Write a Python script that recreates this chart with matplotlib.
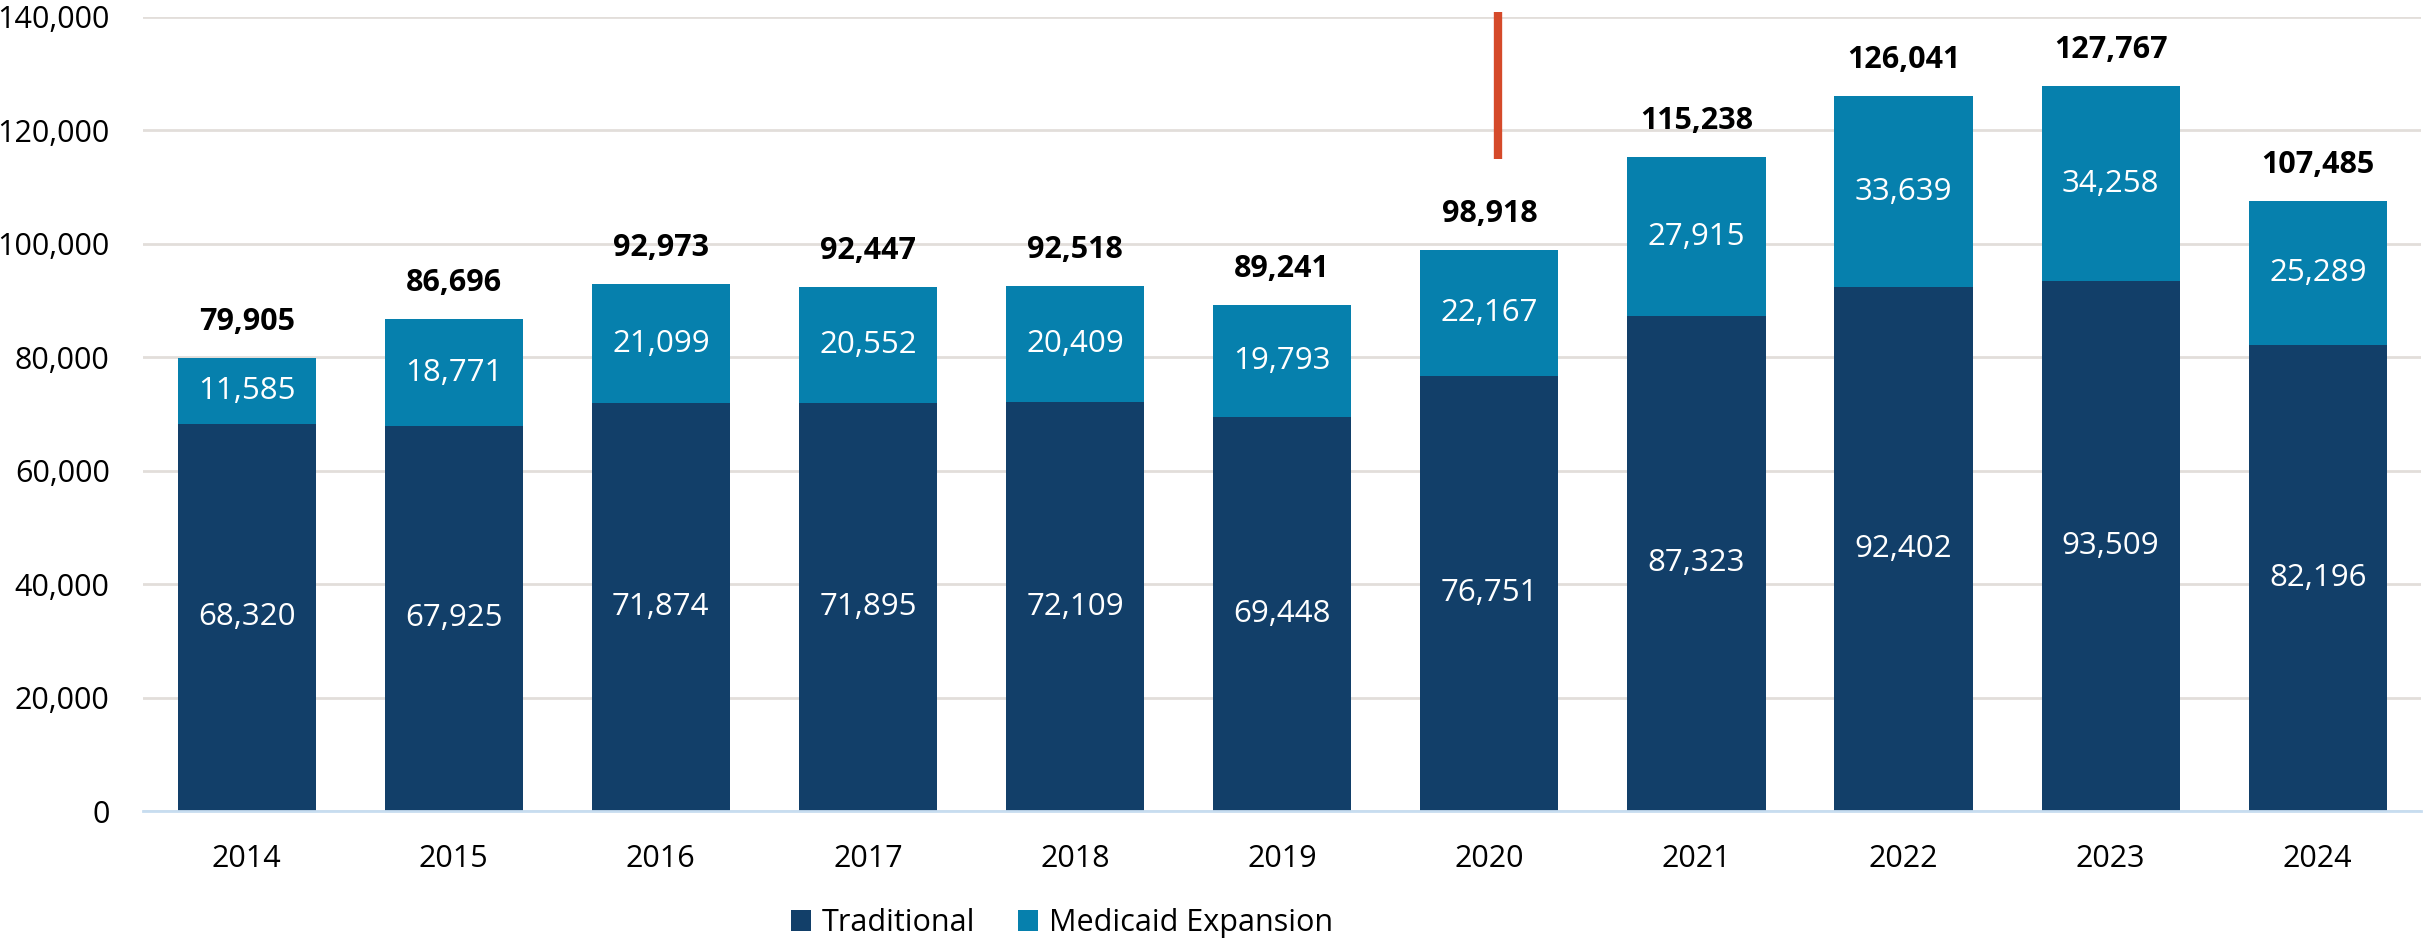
"""Stacked bars: Traditional vs Medicaid Expansion, 2014-2024."""
import matplotlib.pyplot as plt
from matplotlib.ticker import FuncFormatter

plt.rcParams["font.family"] = ["Open Sans", "DejaVu Sans"]

years = ["2014", "2015", "2016", "2017", "2018", "2019", "2020", "2021", "2022", "2023", "2024"]
traditional = [68320, 67925, 71874, 71895, 72109, 69448, 76751, 87323, 92402, 93509, 82196]
expansion = [11585, 18771, 21099, 20552, 20409, 19793, 22167, 27915, 33639, 34258, 25289]
totals = [79905, 86696, 92973, 92447, 92518, 89241, 98918, 115238, 126041, 127767, 107485]

NAVY = "#123F69"
BLUE = "#0680AD"

fig = plt.figure(figsize=(24.25, 9.42), dpi=100)
ax = fig.add_axes([0.059, 0.139, 0.9395, 0.843])

x = list(range(len(years)))
b1 = ax.bar(x, traditional, width=0.667, color=NAVY, label="Traditional", zorder=3)
b2 = ax.bar(x, expansion, width=0.667, bottom=traditional, color=BLUE,
            label="Medicaid Expansion", zorder=3)

for i in x:
    ax.text(i, traditional[i] / 2, f"{traditional[i]:,}", ha="center", va="center",
            color="white", fontsize=22.5, zorder=4)
    ax.text(i, traditional[i] + expansion[i] / 2, f"{expansion[i]:,}", ha="center",
            va="center", color="white", fontsize=22.5, zorder=4)
    ax.annotate(f"{totals[i]:,}", (i, totals[i]), xytext=(0, 26), textcoords="offset points",
                ha="center", va="center", fontsize=22, fontweight="bold", color="black")

# marker line above 2020
i20 = years.index("2020")
ax.plot([i20 + 0.04, i20 + 0.04], [115000, 140800], color="#D54A2A", lw=6,
        solid_capstyle="butt", clip_on=False, zorder=5)

ax.set_xlim(-0.5, 10.5)
ax.set_ylim(0, 140000)
ax.set_yticks(range(0, 140001, 20000))
ax.yaxis.set_major_formatter(FuncFormatter(lambda v, p: f"{int(v):,}"))
ax.set_xticks(x)
ax.set_xticklabels(years)
ax.tick_params(axis="both", length=0, labelsize=22)
ax.tick_params(axis="y", pad=24)
ax.tick_params(axis="x", pad=24)
ax.grid(axis="y", color="#E2DEDA", lw=2, zorder=0)
for s in ["top", "right", "left"]:
    ax.spines[s].set_visible(False)
ax.spines["bottom"].set_color("#C7DDF0")
ax.spines["bottom"].set_linewidth(2)
ax.spines["bottom"].set_zorder(4)

fig.legend(handles=[b1, b2], loc="center", bbox_to_anchor=(0.438, 0.02), ncol=2,
           frameon=False, fontsize=22, handlelength=0.65, handleheight=0.65,
           handletextpad=0.35, columnspacing=1.4)

fig.savefig("out.png", dpi=100)
